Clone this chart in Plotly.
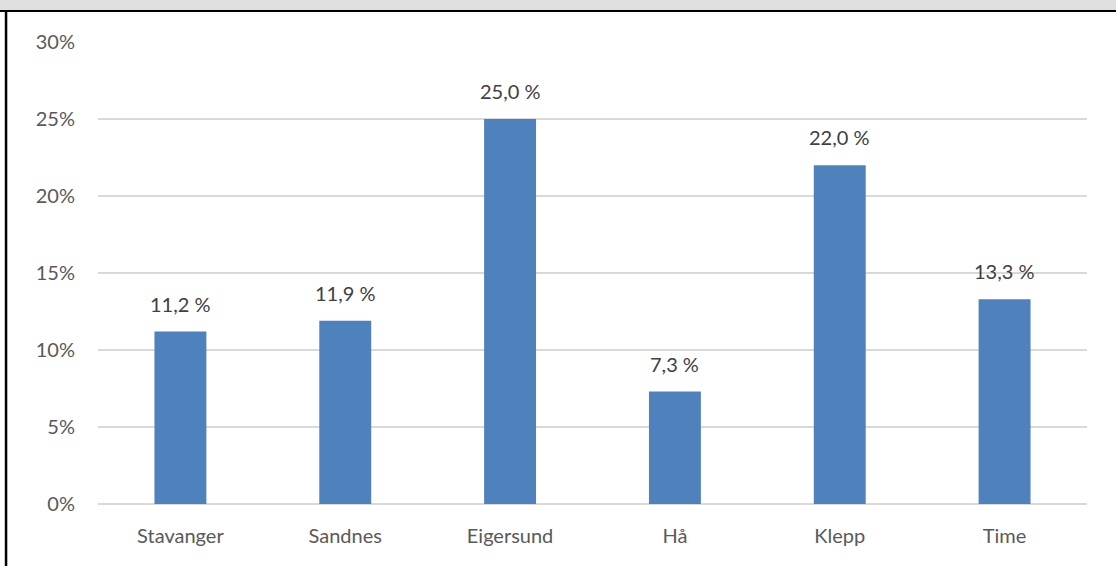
import plotly.graph_objects as go

categories = ["Stavanger", "Sandnes", "Eigersund", "Hå", "Klepp", "Time"]
values = [11.2, 11.9, 25.0, 7.3, 22.0, 13.3]
labels = [f"{v:.1f} %".replace(".", ",") for v in values]
tick_vals = [0, 5, 10, 15, 20, 25, 30]
tick_text = [f"{t}%" for t in tick_vals]

fig = go.Figure(go.Bar(
    x=categories, y=values,
    marker=dict(color="#4f81bd", line=dict(width=0)),
))

for c, v, t in zip(categories, values, labels):
    fig.add_annotation(x=c, y=v, text=t, showarrow=False, yanchor="bottom",
                       yshift=14, font=dict(color="#404040", size=20))

fig.update_layout(
    width=1116, height=566,
    margin=dict(l=98, r=29, t=42, b=62),
    paper_bgcolor="white", plot_bgcolor="white",
    font=dict(family="Lato, Carlito, sans-serif", color="#595959", size=20),
    bargap=0.685, showlegend=False,
    xaxis=dict(showline=False, ticks="", tickfont=dict(size=20), ticklabelstandoff=18),
    yaxis=dict(range=[0, 30], tickvals=tick_vals, ticktext=tick_text,
               showgrid=True, gridcolor="#d9d9d9", gridwidth=1.5,
               zeroline=True, zerolinecolor="#d9d9d9", zerolinewidth=1.5,
               ticks="", ticklen=0, tickfont=dict(size=20), ticklabelstandoff=22),
    shapes=[
        dict(type="rect", xref="paper", yref="paper", x0=-0.2, x1=1.1,
             y0=1 + 31 / 462, y1=1.2, fillcolor="#e0e0e0", line=dict(width=0), layer="below"),
        dict(type="line", xref="paper", yref="paper", x0=-0.2, x1=1.1,
             y0=1 + 31 / 462, y1=1 + 31 / 462, line=dict(color="black", width=2)),
        dict(type="line", xref="paper", yref="paper", x0=-92 / 989.5, x1=-92 / 989.5,
             y0=-0.2, y1=1 + 31 / 462, line=dict(color="black", width=2.5)),
    ],
)

fig.write_html("out.html")
